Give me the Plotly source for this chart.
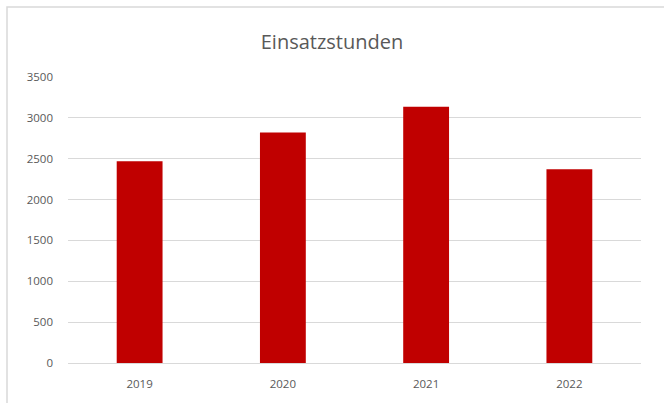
import plotly.graph_objects as go

years = ["2019", "2020", "2021", "2022"]
hours = [2470, 2820, 3135, 2370]
y_ticks = [0, 500, 1000, 1500, 2000, 2500, 3000, 3500]

W, H = 664, 403
L, R, T, B = 68, 23, 77, 40
pw, ph = W - L - R, H - T - B

fig = go.Figure(go.Bar(x=years, y=hours, marker=dict(color="#c00000", line=dict(width=0)),
                       width=0.32, hoverinfo="x+y"))

fig.update_layout(
    width=W, height=H,
    margin=dict(l=L, r=R, t=T, b=B),
    paper_bgcolor="white", plot_bgcolor="white",
    font=dict(family="Open Sans, Noto Sans, sans-serif", color="#595959", size=11),
    title=dict(text="Einsatzstunden", x=0.5, xref="container", xanchor="center",
               y=1 - 42 / H, yanchor="middle",
               font=dict(size=20, color="#595959", family="Open Sans, sans-serif")),
    showlegend=False,
    xaxis=dict(showgrid=False, showline=False, ticks="", tickfont=dict(size=11.5),
               ticklabelstandoff=12),
    yaxis=dict(range=[0, 3500], tickvals=y_ticks, showgrid=True, gridcolor="#d9d9d9",
               gridwidth=1, zeroline=True, zerolinecolor="#d9d9d9", zerolinewidth=1,
               showline=False, ticks="", ticklabelstandoff=14, tickfont=dict(size=11.5)),
    shapes=[dict(type="rect", xref="paper", yref="paper",
                 x0=(7 - L) / pw, x1=(W + 5 - L) / pw,
                 y0=(H - B - (H + 5)) / ph, y1=(H - B - 7) / ph,
                 line=dict(color="#d9d9d9", width=1.5), fillcolor="rgba(0,0,0,0)", layer="below")],
)

fig.write_html("out.html", config={"displayModeBar": False},
               post_script="document.body.style.margin='0';document.body.style.overflow='hidden';")
